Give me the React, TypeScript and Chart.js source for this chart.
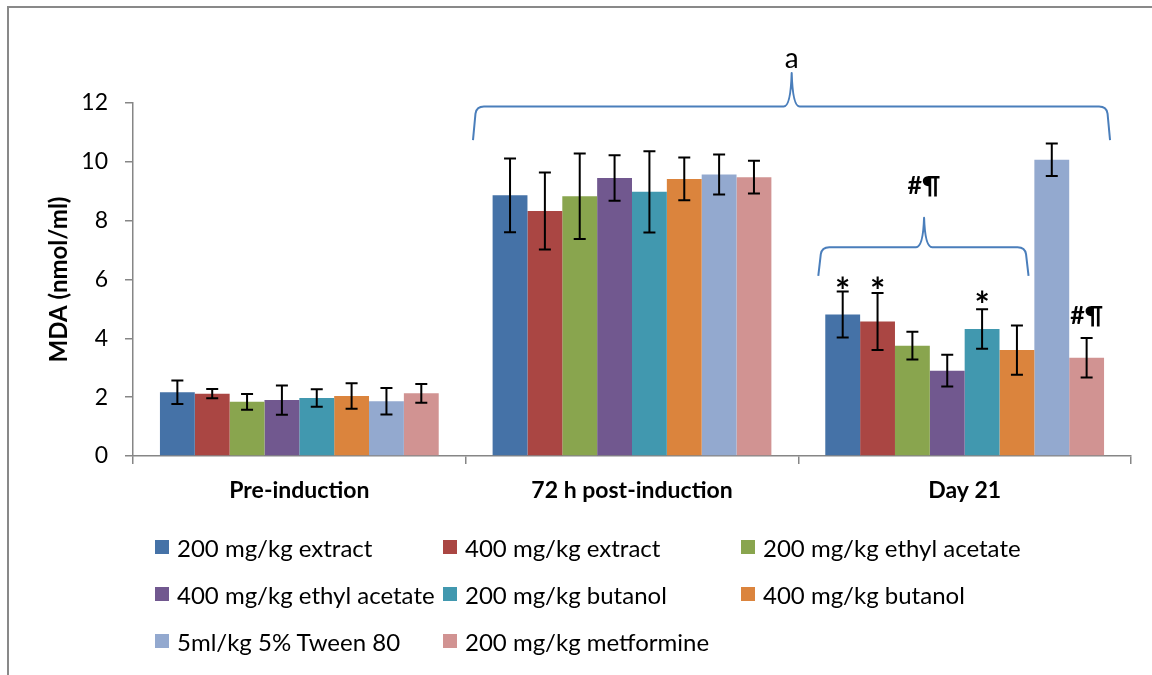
import React, { useEffect, useRef } from "react";
import { Chart, registerables } from "chart.js";

Chart.register(...registerables);

const categories = ["Pre-induction", "72 h post-induction", "Day 21"];

const seriesLabels = [
  "200 mg/kg extract",
  "400 mg/kg extract",
  "200 mg/kg ethyl acetate",
  "400 mg/kg ethyl acetate",
  "200 mg/kg butanol",
  "400 mg/kg butanol",
  "5ml/kg 5% Tween 80",
  "200 mg/kg metformine",
];

const seriesColors = [
  "#4572A7",
  "#AA4643",
  "#89A54E",
  "#71588F",
  "#4198AF",
  "#DB843D",
  "#93A9CF",
  "#D19392",
];

// MDA means (nmol/ml) per category
const extract200 = [2.17, 8.86, 4.81];
const extract400 = [2.12, 8.33, 4.57];
const ethylAcetate200 = [1.84, 8.83, 3.75];
const ethylAcetate400 = [1.9, 9.45, 2.9];
const butanol200 = [1.97, 8.98, 4.32];
const butanol400 = [2.04, 9.42, 3.6];
const tween80 = [1.86, 9.57, 10.07];
const metformine200 = [2.13, 9.48, 3.34];

// error bar half-lengths
const extract200Err = [0.4, 1.25, 0.78];
const extract400Err = [0.16, 1.31, 0.97];
const ethylAcetate200Err = [0.27, 1.45, 0.47];
const ethylAcetate400Err = [0.5, 0.77, 0.54];
const butanol200Err = [0.3, 1.38, 0.67];
const butanol400Err = [0.43, 0.73, 0.84];
const tween80Err = [0.45, 0.68, 0.55];
const metformine200Err = [0.32, 0.56, 0.67];

const seriesValues = [
  extract200,
  extract400,
  ethylAcetate200,
  ethylAcetate400,
  butanol200,
  butanol400,
  tween80,
  metformine200,
];
const seriesErrors = [
  extract200Err,
  extract400Err,
  ethylAcetate200Err,
  ethylAcetate400Err,
  butanol200Err,
  butanol400Err,
  tween80Err,
  metformine200Err,
];

const yMin = 0;
const yMax = 12;
const yStep = 2;

// braces (x in category units, y in MDA units)
const braceFrom = [0.522, 1.56];
const braceTo = [2.437, 2.192];
const braceTip = [1.48, 1.878];
const braceLineY = [11.88, 7.1];
const braceTipY = [13.02, 8.1];
const braceEndY = [10.74, 6.12];
const braceText = ["a", "#¶"];
const braceTextY = [13.43, 9.16];

// significance marks over bars
const markSeries = [0, 1, 4, 7];
const markCategory = [2, 2, 2, 2];
const markText = ["*", "*", "*", "#¶"];
const markY = [5.89, 5.9, 5.43, 4.75];

const FONT = "Lato, 'Open Sans', sans-serif";

function centeredText(ctx: CanvasRenderingContext2D, text: string, cx: number, cy: number, font: string) {
  ctx.font = font;
  ctx.textAlign = "center";
  ctx.textBaseline = "alphabetic";
  const m = ctx.measureText(text);
  const asc = m.actualBoundingBoxAscent;
  const desc = m.actualBoundingBoxDescent;
  ctx.fillText(text, cx, cy + (asc - desc) / 2);
}

function drawBrace(
  ctx: CanvasRenderingContext2D,
  x1: number,
  x2: number,
  xt: number,
  yl: number,
  yt: number,
  ye: number
) {
  ctx.beginPath();
  ctx.moveTo(x1, ye);
  ctx.lineTo(x1 + 2.5, yl + 7);
  ctx.quadraticCurveTo(x1 + 3.5, yl, x1 + 11, yl);
  ctx.lineTo(xt - 8, yl);
  ctx.quadraticCurveTo(xt - 1, yl, xt, yt);
  ctx.quadraticCurveTo(xt + 1, yl, xt + 8, yl);
  ctx.lineTo(x2 - 11, yl);
  ctx.quadraticCurveTo(x2 - 3.5, yl, x2 - 2.5, yl + 7);
  ctx.lineTo(x2, ye);
  ctx.stroke();
}

const overlayPlugin = {
  id: "overlay",
  afterDatasetsDraw(chart: any) {
    const ctx: CanvasRenderingContext2D = chart.ctx;
    const xs = chart.scales.x;
    const ys = chart.scales.y;
    ctx.save();
    // error bars
    ctx.strokeStyle = "#000";
    ctx.lineWidth = 2;
    chart.data.datasets.forEach((ds: any, i: number) => {
      const meta = chart.getDatasetMeta(i);
      meta.data.forEach((bar: any, j: number) => {
        const v = seriesValues[i][j];
        const e = seriesErrors[i][j];
        const top = ys.getPixelForValue(v + e);
        const bot = ys.getPixelForValue(v - e);
        const half = 6;
        ctx.beginPath();
        ctx.moveTo(bar.x, top);
        ctx.lineTo(bar.x, bot);
        ctx.moveTo(bar.x - half, top);
        ctx.lineTo(bar.x + half, top);
        ctx.moveTo(bar.x - half, bot);
        ctx.lineTo(bar.x + half, bot);
        ctx.stroke();
      });
    });
    // braces
    ctx.strokeStyle = "#4A7EBB";
    ctx.lineWidth = 2;
    ctx.lineJoin = "round";
    for (let b = 0; b < braceFrom.length; b++) {
      drawBrace(
        ctx,
        xs.getPixelForValue(braceFrom[b]),
        xs.getPixelForValue(braceTo[b]),
        xs.getPixelForValue(braceTip[b]),
        ys.getPixelForValue(braceLineY[b]),
        ys.getPixelForValue(braceTipY[b]),
        ys.getPixelForValue(braceEndY[b])
      );
      ctx.fillStyle = "#000";
      centeredText(
        ctx,
        braceText[b],
        xs.getPixelForValue(braceTip[b]),
        ys.getPixelForValue(braceTextY[b]),
        b === 0 ? `28px ${FONT}` : `bold 25px ${FONT}`
      );
    }
    // marks over bars
    ctx.fillStyle = "#000";
    for (let k = 0; k < markSeries.length; k++) {
      const bar = chart.getDatasetMeta(markSeries[k]).data[markCategory[k]];
      const isStar = markText[k] === "*";
      centeredText(
        ctx,
        markText[k],
        bar.x,
        ys.getPixelForValue(markY[k]),
        isStar ? `bold 36px ${FONT}` : `bold 25px ${FONT}`
      );
    }
    ctx.restore();
  },
};

const legendCols = [155, 443, 741];
const legendRows = [547, 594, 641];

export default function App() {
  const ref = useRef<HTMLCanvasElement>(null);

  useEffect(() => {
    if (!ref.current) return;
    const chart = new Chart(ref.current, {
      type: "bar",
      data: {
        labels: categories,
        datasets: seriesLabels.map((label, i) => ({
          label,
          data: seriesValues[i],
          backgroundColor: seriesColors[i],
          borderWidth: 0,
          categoryPercentage: 0.838,
          barPercentage: 1,
        })),
      },
      options: {
        responsive: false,
        maintainAspectRatio: false,
        animation: false,
        layout: { padding: { left: 45, top: 103, right: 21, bottom: 0 } },
        plugins: {
          legend: { display: false },
          tooltip: { enabled: false },
        },
        scales: {
          x: {
            offset: true,
            afterFit: (s: any) => {
              s.height = 219;
            },
            grid: {
              display: true,
              offset: true,
              drawOnChartArea: false,
              drawTicks: true,
              tickLength: 8,
              color: "#868686",
              lineWidth: 1.5,
            },
            border: { display: true, color: "#868686", width: 1.5 },
            ticks: {
              color: "#000",
              padding: 13,
              font: { family: FONT, size: 23, weight: "bold" },
              maxRotation: 0,
            },
          },
          y: {
            min: yMin,
            max: yMax,
            afterFit: (s: any) => {
              s.width = 88;
            },
            ticks: {
              stepSize: yStep,
              color: "#000",
              padding: 17,
              font: { family: FONT, size: 23 },
            },
            grid: {
              display: true,
              drawOnChartArea: false,
              drawTicks: true,
              tickLength: 8,
              color: "#868686",
              lineWidth: 1.5,
            },
            border: { display: true, color: "#868686", width: 1.5 },
            title: {
              display: true,
              text: "MDA (nmol/ml)",
              color: "#000",
              padding: 0,
              font: { family: FONT, size: 24, weight: "bold" },
            },
          },
        },
      },
      plugins: [overlayPlugin],
    });
    return () => chart.destroy();
  }, []);

  return (
    <div
      style={{
        position: "fixed",
        left: 0,
        top: 0,
        width: 1152,
        height: 675,
        overflow: "hidden",
        background: "#fff",
      }}
    >
      <div
        style={{
          position: "absolute",
          left: 7,
          top: 6,
          width: 1200,
          height: 720,
          borderLeft: "2px solid #898989",
          borderTop: "2px solid #898989",
        }}
      />
      <canvas
        ref={ref}
        width={1152}
        height={675}
        style={{ position: "absolute", left: 0, top: 0, width: 1152, height: 675 }}
      />
      {seriesLabels.map((label, i) => (
        <div
          key={label}
          style={{
            position: "absolute",
            left: legendCols[i % 3],
            top: legendRows[Math.floor(i / 3)] - 15,
            height: 30,
            display: "flex",
            alignItems: "center",
            whiteSpace: "nowrap",
            fontFamily: FONT,
            fontSize: 24,
            color: "#000",
          }}
        >
          <span
            style={{
              display: "inline-block",
              width: 14,
              height: 14,
              background: seriesColors[i],
              marginRight: 8,
            }}
          />
          <span>{label}</span>
        </div>
      ))}
    </div>
  );
}
